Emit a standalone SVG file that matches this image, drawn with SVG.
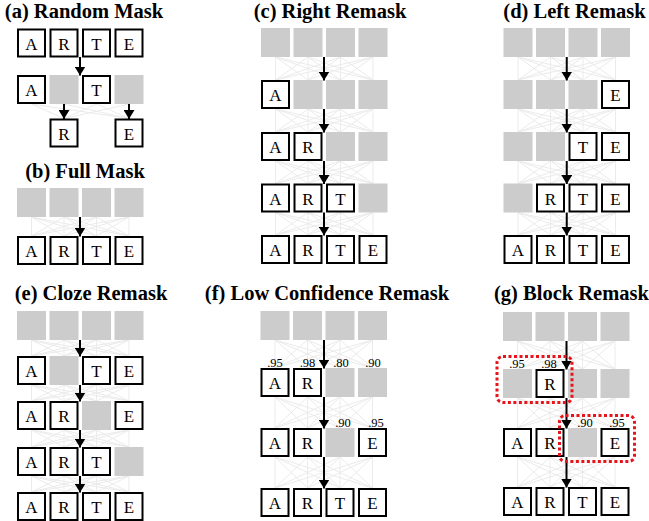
<svg xmlns="http://www.w3.org/2000/svg" width="649" height="521" viewBox="0 0 649 521">
<defs>
<style>
.w{fill:#fff;stroke:#000;stroke-width:2}
.g{fill:#cccccc}
.t{font-family:"Liberation Serif","Times New Roman",serif;font-size:17px;text-anchor:middle;fill:#000}
.n{font-family:"Liberation Serif","Times New Roman",serif;font-size:12.5px;text-anchor:middle;fill:#000}
.ti{font-family:"Liberation Serif","Times New Roman",serif;font-size:20.5px;font-weight:bold;text-anchor:middle;fill:#000}
.f{stroke:#ebebeb;stroke-width:1;fill:none}
.ar{stroke:#000;stroke-width:2;fill:none;marker-end:url(#ah)}
.rd{fill:none;stroke:#e8141b;stroke-width:3;stroke-dasharray:3 2.5}
</style>
<marker id="ah" viewBox="0 0 10 10" refX="10" refY="5" markerWidth="9" markerHeight="11" markerUnits="userSpaceOnUse" orient="auto" preserveAspectRatio="none">
<path d="M0,0 L10,5 L0,10 z" fill="#000"/>
</marker>
</defs>

<!-- titles -->
<g id="titles">
<text class="ti" x="84" y="18">(a) Random Mask</text>
<text class="ti" x="85" y="178">(b) Full Mask</text>
<text class="ti" x="330" y="18">(c) Right Remask</text>
<text class="ti" x="574.5" y="18">(d) Left Remask</text>
<text class="ti" x="91" y="300">(e) Cloze Remask</text>
<text class="ti" x="327" y="300">(f) Low Confidence Remask</text>
<text class="ti" x="571.5" y="300">(g) Block Remask</text>
</g>

<!-- faint network lines -->
<g id="network" class="f">
<!-- a: row2 -> row3 -->
<path d="M31.5,104L64,118.5M64,104L64,118.5M96.5,104L64,118.5M129,104L64,118.5M31.5,104L129,118.5M64,104L129,118.5M96.5,104L129,118.5M129,104L129,118.5"/>
<!-- b -->
<path d="M31.5,217L31.5,236M31.5,217L64,236M31.5,217L96.5,236M31.5,217L129,236M64,217L31.5,236M64,217L64,236M64,217L96.5,236M64,217L129,236M96.5,217L31.5,236M96.5,217L64,236M96.5,217L96.5,236M96.5,217L129,236M129,217L31.5,236M129,217L64,236M129,217L96.5,236M129,217L129,236"/>
<!-- c -->
<path d="M275.5,57L275.5,80M275.5,57L308,80M275.5,57L340.5,80M275.5,57L373,80M308,57L275.5,80M308,57L308,80M308,57L340.5,80M308,57L373,80M340.5,57L275.5,80M340.5,57L308,80M340.5,57L340.5,80M340.5,57L373,80M373,57L275.5,80M373,57L308,80M373,57L340.5,80M373,57L373,80"/>
<path d="M275.5,109L275.5,132M275.5,109L308,132M275.5,109L340.5,132M275.5,109L373,132M308,109L275.5,132M308,109L308,132M308,109L340.5,132M308,109L373,132M340.5,109L275.5,132M340.5,109L308,132M340.5,109L340.5,132M340.5,109L373,132M373,109L275.5,132M373,109L308,132M373,109L340.5,132M373,109L373,132"/>
<path d="M275.5,161L275.5,183.5M275.5,161L308,183.5M275.5,161L340.5,183.5M275.5,161L373,183.5M308,161L275.5,183.5M308,161L308,183.5M308,161L340.5,183.5M308,161L373,183.5M340.5,161L275.5,183.5M340.5,161L308,183.5M340.5,161L340.5,183.5M340.5,161L373,183.5M373,161L275.5,183.5M373,161L308,183.5M373,161L340.5,183.5M373,161L373,183.5"/>
<path d="M275.5,212.5L275.5,235M275.5,212.5L308,235M275.5,212.5L340.5,235M275.5,212.5L373,235M308,212.5L275.5,235M308,212.5L308,235M308,212.5L340.5,235M308,212.5L373,235M340.5,212.5L275.5,235M340.5,212.5L308,235M340.5,212.5L340.5,235M340.5,212.5L373,235M373,212.5L275.5,235M373,212.5L308,235M373,212.5L340.5,235M373,212.5L373,235"/>
<!-- d -->
<path d="M518,57L518,80M518,57L550.5,80M518,57L583,80M518,57L615.5,80M550.5,57L518,80M550.5,57L550.5,80M550.5,57L583,80M550.5,57L615.5,80M583,57L518,80M583,57L550.5,80M583,57L583,80M583,57L615.5,80M615.5,57L518,80M615.5,57L550.5,80M615.5,57L583,80M615.5,57L615.5,80"/>
<path d="M518,109L518,132M518,109L550.5,132M518,109L583,132M518,109L615.5,132M550.5,109L518,132M550.5,109L550.5,132M550.5,109L583,132M550.5,109L615.5,132M583,109L518,132M583,109L550.5,132M583,109L583,132M583,109L615.5,132M615.5,109L518,132M615.5,109L550.5,132M615.5,109L583,132M615.5,109L615.5,132"/>
<path d="M518,161L518,183.5M518,161L550.5,183.5M518,161L583,183.5M518,161L615.5,183.5M550.5,161L518,183.5M550.5,161L550.5,183.5M550.5,161L583,183.5M550.5,161L615.5,183.5M583,161L518,183.5M583,161L550.5,183.5M583,161L583,183.5M583,161L615.5,183.5M615.5,161L518,183.5M615.5,161L550.5,183.5M615.5,161L583,183.5M615.5,161L615.5,183.5"/>
<path d="M518,212.5L518,235M518,212.5L550.5,235M518,212.5L583,235M518,212.5L615.5,235M550.5,212.5L518,235M550.5,212.5L550.5,235M550.5,212.5L583,235M550.5,212.5L615.5,235M583,212.5L518,235M583,212.5L550.5,235M583,212.5L583,235M583,212.5L615.5,235M615.5,212.5L518,235M615.5,212.5L550.5,235M615.5,212.5L583,235M615.5,212.5L615.5,235"/>
<!-- e -->
<path d="M31.5,340L31.5,356M31.5,340L64,356M31.5,340L96.5,356M31.5,340L129,356M64,340L31.5,356M64,340L64,356M64,340L96.5,356M64,340L129,356M96.5,340L31.5,356M96.5,340L64,356M96.5,340L96.5,356M96.5,340L129,356M129,340L31.5,356M129,340L64,356M129,340L96.5,356M129,340L129,356"/>
<path d="M31.5,385L31.5,401M31.5,385L64,401M31.5,385L96.5,401M31.5,385L129,401M64,385L31.5,401M64,385L64,401M64,385L96.5,401M64,385L129,401M96.5,385L31.5,401M96.5,385L64,401M96.5,385L96.5,401M96.5,385L129,401M129,385L31.5,401M129,385L64,401M129,385L96.5,401M129,385L129,401"/>
<path d="M31.5,430L31.5,447M31.5,430L64,447M31.5,430L96.5,447M31.5,430L129,447M64,430L31.5,447M64,430L64,447M64,430L96.5,447M64,430L129,447M96.5,430L31.5,447M96.5,430L64,447M96.5,430L96.5,447M96.5,430L129,447M129,430L31.5,447M129,430L64,447M129,430L96.5,447M129,430L129,447"/>
<path d="M31.5,476L31.5,492M31.5,476L64,492M31.5,476L96.5,492M31.5,476L129,492M64,476L31.5,492M64,476L64,492M64,476L96.5,492M64,476L129,492M96.5,476L31.5,492M96.5,476L64,492M96.5,476L96.5,492M96.5,476L129,492M129,476L31.5,492M129,476L64,492M129,476L96.5,492M129,476L129,492"/>
<!-- f -->
<path d="M275,340L275,368M275,340L307.5,368M275,340L340,368M275,340L372.5,368M307.5,340L275,368M307.5,340L307.5,368M307.5,340L340,368M307.5,340L372.5,368M340,340L275,368M340,340L307.5,368M340,340L340,368M340,340L372.5,368M372.5,340L275,368M372.5,340L307.5,368M372.5,340L340,368M372.5,340L372.5,368"/>
<path d="M275,397L275,428M275,397L307.5,428M275,397L340,428M275,397L372.5,428M307.5,397L275,428M307.5,397L307.5,428M307.5,397L340,428M307.5,397L372.5,428M340,397L275,428M340,397L307.5,428M340,397L340,428M340,397L372.5,428M372.5,397L275,428M372.5,397L307.5,428M372.5,397L340,428M372.5,397L372.5,428"/>
<path d="M275,457L275,488M275,457L307.5,488M275,457L340,488M275,457L372.5,488M307.5,457L275,488M307.5,457L307.5,488M307.5,457L340,488M307.5,457L372.5,488M340,457L275,488M340,457L307.5,488M340,457L340,488M340,457L372.5,488M372.5,457L275,488M372.5,457L307.5,488M372.5,457L340,488M372.5,457L372.5,488"/>
<!-- g -->
<path d="M517.5,341L517.5,369M517.5,341L550,369M517.5,341L582.5,369M517.5,341L615,369M550,341L517.5,369M550,341L550,369M550,341L582.5,369M550,341L615,369M582.5,341L517.5,369M582.5,341L550,369M582.5,341L582.5,369M582.5,341L615,369M615,341L517.5,369M615,341L550,369M615,341L582.5,369M615,341L615,369"/>
<path d="M517.5,398L517.5,428M517.5,398L550,428M517.5,398L582.5,428M517.5,398L615,428M550,398L517.5,428M550,398L550,428M550,398L582.5,428M550,398L615,428M582.5,398L517.5,428M582.5,398L550,428M582.5,398L582.5,428M582.5,398L615,428M615,398L517.5,428M615,398L550,428M615,398L582.5,428M615,398L615,428"/>
<path d="M517.5,457L517.5,487M517.5,457L550,487M517.5,457L582.5,487M517.5,457L615,487M550,457L517.5,487M550,457L550,487M550,457L582.5,487M550,457L615,487M582.5,457L517.5,487M582.5,457L550,487M582.5,457L582.5,487M582.5,457L615,487M615,457L517.5,487M615,457L550,487M615,457L582.5,487M615,457L615,487"/>
</g>

<!-- panel a -->
<g id="a-r1-1"><rect class="w" x="18" y="29.5" width="27" height="27"/><text class="t" x="31.5" y="49.5">A</text></g>
<g id="a-r1-2"><rect class="w" x="50.5" y="29.5" width="27" height="27"/><text class="t" x="64" y="49.5">R</text></g>
<g id="a-r1-3"><rect class="w" x="83" y="29.5" width="27" height="27"/><text class="t" x="96.5" y="49.5">T</text></g>
<g id="a-r1-4"><rect class="w" x="115.5" y="29.5" width="27" height="27"/><text class="t" x="129" y="49.5">E</text></g>
<g id="a-r2-1"><rect class="w" x="18" y="76" width="27" height="27"/><text class="t" x="31.5" y="96">A</text></g>
<g id="a-r2-2"><rect class="g" x="49.5" y="75" width="29" height="29"/></g>
<g id="a-r2-3"><rect class="w" x="83" y="76" width="27" height="27"/><text class="t" x="96.5" y="96">T</text></g>
<g id="a-r2-4"><rect class="g" x="114.5" y="75" width="29" height="29"/></g>
<g id="a-r3-2"><rect class="w" x="50.5" y="119.5" width="27" height="27"/><text class="t" x="64" y="139.5">R</text></g>
<g id="a-r3-4"><rect class="w" x="115.5" y="119.5" width="27" height="27"/><text class="t" x="129" y="139.5">E</text></g>

<!-- panel b -->
<g id="b-r1-1"><rect class="g" x="17" y="188" width="29" height="29"/></g>
<g id="b-r1-2"><rect class="g" x="49.5" y="188" width="29" height="29"/></g>
<g id="b-r1-3"><rect class="g" x="82" y="188" width="29" height="29"/></g>
<g id="b-r1-4"><rect class="g" x="114.5" y="188" width="29" height="29"/></g>
<g id="b-r2-1"><rect class="w" x="18" y="237" width="27" height="27"/><text class="t" x="31.5" y="257">A</text></g>
<g id="b-r2-2"><rect class="w" x="50.5" y="237" width="27" height="27"/><text class="t" x="64" y="257">R</text></g>
<g id="b-r2-3"><rect class="w" x="83" y="237" width="27" height="27"/><text class="t" x="96.5" y="257">T</text></g>
<g id="b-r2-4"><rect class="w" x="115.5" y="237" width="27" height="27"/><text class="t" x="129" y="257">E</text></g>

<!-- panel c -->
<g id="c-r1-1"><rect class="g" x="261" y="28" width="29" height="29"/></g>
<g id="c-r1-2"><rect class="g" x="293.5" y="28" width="29" height="29"/></g>
<g id="c-r1-3"><rect class="g" x="326" y="28" width="29" height="29"/></g>
<g id="c-r1-4"><rect class="g" x="358.5" y="28" width="29" height="29"/></g>
<g id="c-r2-1"><rect class="w" x="262" y="81" width="27" height="27"/><text class="t" x="275.5" y="101">A</text></g>
<g id="c-r2-2"><rect class="g" x="293.5" y="80" width="29" height="29"/></g>
<g id="c-r2-3"><rect class="g" x="326" y="80" width="29" height="29"/></g>
<g id="c-r2-4"><rect class="g" x="358.5" y="80" width="29" height="29"/></g>
<g id="c-r3-1"><rect class="w" x="262" y="133" width="27" height="27"/><text class="t" x="275.5" y="153">A</text></g>
<g id="c-r3-2"><rect class="w" x="294.5" y="133" width="27" height="27"/><text class="t" x="308" y="153">R</text></g>
<g id="c-r3-3"><rect class="g" x="326" y="132" width="29" height="29"/></g>
<g id="c-r3-4"><rect class="g" x="358.5" y="132" width="29" height="29"/></g>
<g id="c-r4-1"><rect class="w" x="262" y="184.5" width="27" height="27"/><text class="t" x="275.5" y="204.5">A</text></g>
<g id="c-r4-2"><rect class="w" x="294.5" y="184.5" width="27" height="27"/><text class="t" x="308" y="204.5">R</text></g>
<g id="c-r4-3"><rect class="w" x="327" y="184.5" width="27" height="27"/><text class="t" x="340.5" y="204.5">T</text></g>
<g id="c-r4-4"><rect class="g" x="358.5" y="183.5" width="29" height="29"/></g>
<g id="c-r5-1"><rect class="w" x="262" y="236" width="27" height="27"/><text class="t" x="275.5" y="256">A</text></g>
<g id="c-r5-2"><rect class="w" x="294.5" y="236" width="27" height="27"/><text class="t" x="308" y="256">R</text></g>
<g id="c-r5-3"><rect class="w" x="327" y="236" width="27" height="27"/><text class="t" x="340.5" y="256">T</text></g>
<g id="c-r5-4"><rect class="w" x="359.5" y="236" width="27" height="27"/><text class="t" x="373" y="256">E</text></g>

<!-- panel d -->
<g id="d-r1-1"><rect class="g" x="503.5" y="28" width="29" height="29"/></g>
<g id="d-r1-2"><rect class="g" x="536" y="28" width="29" height="29"/></g>
<g id="d-r1-3"><rect class="g" x="568.5" y="28" width="29" height="29"/></g>
<g id="d-r1-4"><rect class="g" x="601" y="28" width="29" height="29"/></g>
<g id="d-r2-1"><rect class="g" x="503.5" y="80" width="29" height="29"/></g>
<g id="d-r2-2"><rect class="g" x="536" y="80" width="29" height="29"/></g>
<g id="d-r2-3"><rect class="g" x="568.5" y="80" width="29" height="29"/></g>
<g id="d-r2-4"><rect class="w" x="602" y="81" width="27" height="27"/><text class="t" x="615.5" y="101">E</text></g>
<g id="d-r3-1"><rect class="g" x="503.5" y="132" width="29" height="29"/></g>
<g id="d-r3-2"><rect class="g" x="536" y="132" width="29" height="29"/></g>
<g id="d-r3-3"><rect class="w" x="569.5" y="133" width="27" height="27"/><text class="t" x="583" y="153">T</text></g>
<g id="d-r3-4"><rect class="w" x="602" y="133" width="27" height="27"/><text class="t" x="615.5" y="153">E</text></g>
<g id="d-r4-1"><rect class="g" x="503.5" y="183.5" width="29" height="29"/></g>
<g id="d-r4-2"><rect class="w" x="537" y="184.5" width="27" height="27"/><text class="t" x="550.5" y="204.5">R</text></g>
<g id="d-r4-3"><rect class="w" x="569.5" y="184.5" width="27" height="27"/><text class="t" x="583" y="204.5">T</text></g>
<g id="d-r4-4"><rect class="w" x="602" y="184.5" width="27" height="27"/><text class="t" x="615.5" y="204.5">E</text></g>
<g id="d-r5-1"><rect class="w" x="504.5" y="236" width="27" height="27"/><text class="t" x="518" y="256">A</text></g>
<g id="d-r5-2"><rect class="w" x="537" y="236" width="27" height="27"/><text class="t" x="550.5" y="256">R</text></g>
<g id="d-r5-3"><rect class="w" x="569.5" y="236" width="27" height="27"/><text class="t" x="583" y="256">T</text></g>
<g id="d-r5-4"><rect class="w" x="602" y="236" width="27" height="27"/><text class="t" x="615.5" y="256">E</text></g>

<!-- panel e -->
<g id="e-r1-1"><rect class="g" x="17" y="311" width="29" height="29"/></g>
<g id="e-r1-2"><rect class="g" x="49.5" y="311" width="29" height="29"/></g>
<g id="e-r1-3"><rect class="g" x="82" y="311" width="29" height="29"/></g>
<g id="e-r1-4"><rect class="g" x="114.5" y="311" width="29" height="29"/></g>
<g id="e-r2-1"><rect class="w" x="18" y="357" width="27" height="27"/><text class="t" x="31.5" y="377">A</text></g>
<g id="e-r2-2"><rect class="g" x="49.5" y="356" width="29" height="29"/></g>
<g id="e-r2-3"><rect class="w" x="83" y="357" width="27" height="27"/><text class="t" x="96.5" y="377">T</text></g>
<g id="e-r2-4"><rect class="w" x="115.5" y="357" width="27" height="27"/><text class="t" x="129" y="377">E</text></g>
<g id="e-r3-1"><rect class="w" x="18" y="402" width="27" height="27"/><text class="t" x="31.5" y="422">A</text></g>
<g id="e-r3-2"><rect class="w" x="50.5" y="402" width="27" height="27"/><text class="t" x="64" y="422">R</text></g>
<g id="e-r3-3"><rect class="g" x="82" y="401" width="29" height="29"/></g>
<g id="e-r3-4"><rect class="w" x="115.5" y="402" width="27" height="27"/><text class="t" x="129" y="422">E</text></g>
<g id="e-r4-1"><rect class="w" x="18" y="448" width="27" height="27"/><text class="t" x="31.5" y="468">A</text></g>
<g id="e-r4-2"><rect class="w" x="50.5" y="448" width="27" height="27"/><text class="t" x="64" y="468">R</text></g>
<g id="e-r4-3"><rect class="w" x="83" y="448" width="27" height="27"/><text class="t" x="96.5" y="468">T</text></g>
<g id="e-r4-4"><rect class="g" x="114.5" y="447" width="29" height="29"/></g>
<g id="e-r5-1"><rect class="w" x="18" y="493" width="27" height="27"/><text class="t" x="31.5" y="513">A</text></g>
<g id="e-r5-2"><rect class="w" x="50.5" y="493" width="27" height="27"/><text class="t" x="64" y="513">R</text></g>
<g id="e-r5-3"><rect class="w" x="83" y="493" width="27" height="27"/><text class="t" x="96.5" y="513">T</text></g>
<g id="e-r5-4"><rect class="w" x="115.5" y="493" width="27" height="27"/><text class="t" x="129" y="513">E</text></g>

<!-- panel f -->
<g id="f-r1-1"><rect class="g" x="260.5" y="311" width="29" height="29"/></g>
<g id="f-r1-2"><rect class="g" x="293" y="311" width="29" height="29"/></g>
<g id="f-r1-3"><rect class="g" x="325.5" y="311" width="29" height="29"/></g>
<g id="f-r1-4"><rect class="g" x="358" y="311" width="29" height="29"/></g>
<g id="f-r2-1"><rect class="w" x="261.5" y="369" width="27" height="27"/><text class="t" x="275" y="389">A</text></g>
<g id="f-r2-2"><rect class="w" x="294" y="369" width="27" height="27"/><text class="t" x="307.5" y="389">R</text></g>
<g id="f-r2-3"><rect class="g" x="325.5" y="368" width="29" height="29"/></g>
<g id="f-r2-4"><rect class="g" x="358" y="368" width="29" height="29"/></g>
<g id="f-r3-1"><rect class="w" x="261.5" y="429" width="27" height="27"/><text class="t" x="275" y="449">A</text></g>
<g id="f-r3-2"><rect class="w" x="294" y="429" width="27" height="27"/><text class="t" x="307.5" y="449">R</text></g>
<g id="f-r3-3"><rect class="g" x="325.5" y="428" width="29" height="29"/></g>
<g id="f-r3-4"><rect class="w" x="359" y="429" width="27" height="27"/><text class="t" x="372.5" y="449">E</text></g>
<g id="f-r4-1"><rect class="w" x="261.5" y="489" width="27" height="27"/><text class="t" x="275" y="509">A</text></g>
<g id="f-r4-2"><rect class="w" x="294" y="489" width="27" height="27"/><text class="t" x="307.5" y="509">R</text></g>
<g id="f-r4-3"><rect class="w" x="326.5" y="489" width="27" height="27"/><text class="t" x="340" y="509">T</text></g>
<g id="f-r4-4"><rect class="w" x="359" y="489" width="27" height="27"/><text class="t" x="372.5" y="509">E</text></g>
<g id="f-labels">
<text class="n" x="275" y="367">.95</text>
<text class="n" x="307.5" y="367">.98</text>
<text class="n" x="341" y="367">.80</text>
<text class="n" x="373" y="367">.90</text>
<text class="n" x="343" y="427">.90</text>
<text class="n" x="376" y="427">.95</text>
</g>

<!-- panel g -->
<g id="g-r1-1"><rect class="g" x="503" y="312" width="29" height="29"/></g>
<g id="g-r1-2"><rect class="g" x="535.5" y="312" width="29" height="29"/></g>
<g id="g-r1-3"><rect class="g" x="568" y="312" width="29" height="29"/></g>
<g id="g-r1-4"><rect class="g" x="600.5" y="312" width="29" height="29"/></g>
<g id="g-r2-1"><rect class="g" x="503" y="369" width="29" height="29"/></g>
<g id="g-r2-2"><rect class="w" x="536.5" y="370" width="27" height="27"/><text class="t" x="550" y="390">R</text></g>
<g id="g-r2-3"><rect class="g" x="568" y="369" width="29" height="29"/></g>
<g id="g-r2-4"><rect class="g" x="600.5" y="369" width="29" height="29"/></g>
<g id="g-r3-1"><rect class="w" x="504" y="429" width="27" height="27"/><text class="t" x="517.5" y="449">A</text></g>
<g id="g-r3-2"><rect class="w" x="536.5" y="429" width="27" height="27"/><text class="t" x="550" y="449">R</text></g>
<g id="g-r3-3"><rect class="g" x="568" y="428" width="29" height="29"/></g>
<g id="g-r3-4"><rect class="w" x="601.5" y="429" width="27" height="27"/><text class="t" x="615" y="449">E</text></g>
<g id="g-r4-1"><rect class="w" x="504" y="488" width="27" height="27"/><text class="t" x="517.5" y="508">A</text></g>
<g id="g-r4-2"><rect class="w" x="536.5" y="488" width="27" height="27"/><text class="t" x="550" y="508">R</text></g>
<g id="g-r4-3"><rect class="w" x="569" y="488" width="27" height="27"/><text class="t" x="582.5" y="508">T</text></g>
<g id="g-r4-4"><rect class="w" x="601.5" y="488" width="27" height="27"/><text class="t" x="615" y="508">E</text></g>
<g id="g-labels">
<text class="n" x="517" y="368">.95</text>
<text class="n" x="549" y="368">.98</text>
<text class="n" x="585" y="427">.90</text>
<text class="n" x="617" y="427">.95</text>
</g>

<!-- connectors -->
<g id="connectors">
<line class="ar" x1="80" y1="57" x2="80" y2="75.5"/>
<line class="ar" x1="64" y1="104" x2="64" y2="119"/>
<line class="ar" x1="129" y1="104" x2="129" y2="119"/>
<line class="ar" x1="80" y1="217" x2="80" y2="236.5"/>
<line class="ar" x1="324" y1="57" x2="324" y2="80.5"/>
<line class="ar" x1="324" y1="109" x2="324" y2="132.5"/>
<line class="ar" x1="324" y1="161" x2="324" y2="184"/>
<line class="ar" x1="324" y1="212.5" x2="324" y2="235.5"/>
<line class="ar" x1="566.75" y1="57" x2="566.75" y2="80.5"/>
<line class="ar" x1="566.75" y1="109" x2="566.75" y2="132.5"/>
<line class="ar" x1="566.75" y1="161" x2="566.75" y2="184"/>
<line class="ar" x1="566.75" y1="212.5" x2="566.75" y2="235.5"/>
<line class="ar" x1="80" y1="340" x2="80" y2="356.5"/>
<line class="ar" x1="80" y1="385" x2="80" y2="401.5"/>
<line class="ar" x1="80" y1="430" x2="80" y2="447.5"/>
<line class="ar" x1="80" y1="476" x2="80" y2="492.5"/>
<line class="ar" x1="324" y1="340" x2="324" y2="368.5"/>
<line class="ar" x1="324" y1="397" x2="324" y2="428.5"/>
<line class="ar" x1="324" y1="457" x2="324" y2="488.5"/>
<line class="ar" x1="566.5" y1="341" x2="566.5" y2="369.5"/>
<line class="ar" x1="566.5" y1="398" x2="566.5" y2="428.5"/>
<line class="ar" x1="566.5" y1="457" x2="566.5" y2="487.5"/>
</g>

<!-- block highlight -->
<g id="blocks">
<rect class="rd" x="497" y="356.5" width="75" height="46" rx="6"/>
<rect class="rd" x="559.5" y="415.5" width="75" height="46" rx="6"/>
</g>
</svg>
